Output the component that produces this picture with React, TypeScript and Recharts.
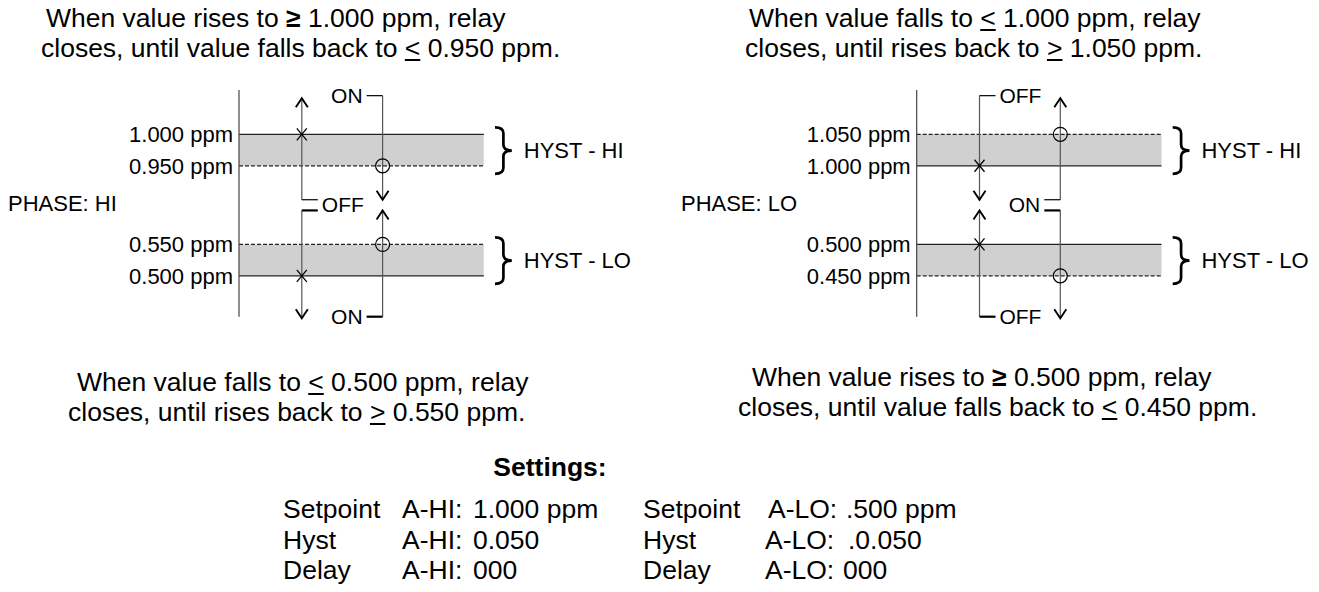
import React from 'react';
import {
    ComposedChart,
    XAxis,
    YAxis,
    Scatter,
    ReferenceArea,
    ReferenceLine,
    ReferenceDot,
} from 'recharts';

const FONT = '"Liberation Sans", Arial, Helvetica, sans-serif';

// Alarm thresholds, top to bottom (ppm)
const hiLevels = [1.0, 0.95, 0.55, 0.5];
const hiTickLabels = ['1.000 ppm', '0.950 ppm', '0.550 ppm', '0.500 ppm'];
const hiSetpoints = [1.0, 0.5];
const hiReleases = [0.95, 0.55];

const loLevels = [1.05, 1.0, 0.5, 0.45];
const loTickLabels = ['1.050 ppm', '1.000 ppm', '0.500 ppm', '0.450 ppm'];
const loSetpoints = [1.0, 0.5];
const loReleases = [1.05, 0.45];

const hyst = 0.05;
const bandNames = ['HYST - HI', 'HYST - LO'];

// Settings table
const settingNames = ['Setpoint', 'Hyst', 'Delay'];
const hiSettingValues = ['1.000 ppm', '0.050', '000'];
const loSettingValues = ['.500 ppm', '.0.050', '000'];

// schematic x lanes (axis units)
const SET_LANE = 1.57;
const REL_LANE = 3.59;
const BAND_END = 6.12;
const BRACE_X = 6.4;
const STUB = 0.4;

const LINE = '#222';
const SHAFT = '#555';
const DIAGRAM_FONT = 22;
const TEXT_FONT = 26.5;

type Mode = 'HI' | 'LO';

// broken axis: the gap between the two bands is drawn 2.5 hysteresis widths tall
const makePos = (levels: number[]) => (v: number) =>
    v >= levels[1] ? v - (levels[1] - levels[2]) + 2.5 * hyst : v;

const Shaft = ({ x1, y1, x2, y2, head }: any) => (
    <g>
        <line x1={x1} y1={y1} x2={x2} y2={y2} stroke={SHAFT} strokeWidth={1.2} />
        {head && (
            <polyline
                points={`${x2 - 6},${y2 + (y2 < y1 ? 9 : -9)} ${x2},${y2} ${x2 + 6},${y2 + (y2 < y1 ? 9 : -9)}`}
                fill="none"
                stroke="#000"
                strokeWidth={1.9}
            />
        )}
    </g>
);

const Stub = ({ x1, y1, x2, y2, heavy }: any) => (
    <line x1={x1} y1={y1} x2={x2} y2={y2} stroke="#000" strokeWidth={heavy ? 2.2 : 1.2} />
);

const CrossMark = ({ cx, cy }: any) => (
    <g stroke="#000" strokeWidth={1.3}>
        <line x1={cx - 5} y1={cy - 6} x2={cx + 5} y2={cy + 6} />
        <line x1={cx - 5} y1={cy + 6} x2={cx + 5} y2={cy - 6} />
    </g>
);

const CircleMark = ({ cx, cy }: any) => (
    <circle cx={cx} cy={cy} r={7} fill="none" stroke="#000" strokeWidth={1.2} />
);

const Brace = ({ x, y, width, height, name }: any) => {
    const top = y - 7;
    const bot = y + height + 8;
    const mid = (top + bot) / 2;
    const xm = x + width * 0.5;
    const xp = x + width;
    const r = 6;
    const d = `M${x},${top} Q${xm},${top} ${xm},${top + r} L${xm},${mid - r} Q${xm},${mid} ${xp},${mid} Q${xm},${mid} ${xm},${mid + r} L${xm},${bot - r} Q${xm},${bot} ${x},${bot}`;
    return (
        <g>
            <path d={d} fill="none" stroke="#000" strokeWidth={2.7} />
            <text x={xp + 12} y={mid} dy="0.35em" fontSize={DIAGRAM_FONT} fontFamily={FONT} fill="#000">
                {name}
            </text>
        </g>
    );
};

const Word = ({ cx, cy, text, side }: any) => (
    <text
        x={side === 'right' ? cx + 4 : cx - 4}
        y={cy}
        dy="0.35em"
        textAnchor={side === 'right' ? 'start' : 'end'}
        fontSize={21}
        fontFamily={FONT}
        fill="#000"
    >
        {text}
    </text>
);

interface PanelProps {
    mode: Mode;
    levels: number[];
    tickLabels: string[];
    setpoints: number[];
    releases: number[];
    axisWidth: number;
    phaseOffset: number;
}

function PhasePanel({ mode, levels, tickLabels, setpoints, releases, axisWidth, phaseOffset }: PanelProps) {
    const pos = makePos(levels);
    const ticks = levels.map(pos);
    const labelOf = new Map(ticks.map((t, i) => [t, tickLabels[i]]));
    const top = ticks[0];
    const bottom = ticks[3];
    const midGap = (ticks[1] + ticks[2]) / 2;
    const brk = 0.17 * hyst;
    const domain = [bottom - 1.3 * hyst, top + 1.41 * hyst];

    const crossData = setpoints.map((v) => ({ x: SET_LANE, y: pos(v) }));
    const circleData = releases.map((v) => ({ x: REL_LANE, y: pos(v) }));

    // lane with arrows at outer ends and bracket in the middle, or the reverse
    const lanes =
        mode === 'HI'
            ? [
                  { x: SET_LANE, outer: 'arrow', side: 'right', word: 'OFF' },
                  { x: REL_LANE, outer: 'bracket', side: 'left', word: 'ON' },
              ]
            : [
                  { x: SET_LANE, outer: 'bracket', side: 'right', word: 'OFF' },
                  { x: REL_LANE, outer: 'arrow', side: 'left', word: 'ON' },
              ];

    const bands = [
        [ticks[1], ticks[0]],
        [ticks[3], ticks[2]],
    ];

    return (
        <ComposedChart
            width={axisWidth + 400}
            height={340}
            margin={{ top: 90, right: 0, bottom: 23.3, left: 0 }}
        >
            <XAxis type="number" dataKey="x" domain={[0, 10]} hide />
            <YAxis
                type="number"
                dataKey="y"
                domain={domain}
                ticks={ticks}
                interval={0}
                width={axisWidth}
                tickLine={false}
                tickSize={0}
                tickMargin={6}
                axisLine={{ stroke: '#444', strokeWidth: 1.2 }}
                tick={{ fill: '#000', fontSize: DIAGRAM_FONT, fontFamily: FONT }}
                tickFormatter={(t: number) => labelOf.get(t) ?? ''}
                label={{
                    value: `PHASE: ${mode}`,
                    position: 'insideLeft',
                    offset: phaseOffset,
                    fill: '#000',
                    fontSize: DIAGRAM_FONT,
                    fontFamily: FONT,
                }}
            />
            {bands.map(([y1, y2], i) => (
                <ReferenceArea
                    key={`band-${i}`}
                    x1={0}
                    x2={BAND_END}
                    y1={y1}
                    y2={y2}
                    fill="#d0d0d0"
                    fillOpacity={1}
                    stroke="none"
                    ifOverflow="visible"
                />
            ))}
            {levels.map((v) => (
                <ReferenceLine
                    key={`lvl-${v}`}
                    segment={[
                        { x: 0, y: pos(v) },
                        { x: BAND_END, y: pos(v) },
                    ]}
                    stroke={LINE}
                    strokeWidth={1.2}
                    strokeDasharray={setpoints.includes(v) ? undefined : '4 2'}
                    ifOverflow="visible"
                />
            ))}
            {bands.map(([y1, y2], i) => (
                <ReferenceArea
                    key={`brace-${i}`}
                    x1={BRACE_X}
                    x2={BRACE_X + 0.42}
                    y1={y1}
                    y2={y2}
                    ifOverflow="visible"
                    shape={(p: any) => <Brace {...p} name={bandNames[i]} />}
                />
            ))}
            {lanes.map((ln) => {
                const dir = ln.side === 'right' ? 1 : -1;
                const outerTop = top + (ln.outer === 'arrow' ? 1.15 : 1.23) * hyst;
                const outerBot = bottom - (ln.outer === 'arrow' ? 1.35 : 1.3) * hyst;
                const innerTop = midGap + brk;
                const innerBot = midGap - brk;
                const arrowOut = ln.outer === 'arrow';
                const stubYs = arrowOut ? [innerTop, innerBot] : [outerTop, outerBot];
                const wordYs = arrowOut ? [midGap] : [outerTop, outerBot];
                return (
                    <React.Fragment key={`lane-${ln.x}`}>
                        <ReferenceLine
                            segment={
                                arrowOut
                                    ? [
                                          { x: ln.x, y: innerTop },
                                          { x: ln.x, y: outerTop },
                                      ]
                                    : [
                                          { x: ln.x, y: outerTop },
                                          { x: ln.x, y: innerTop },
                                      ]
                            }
                            ifOverflow="visible"
                            shape={(p: any) => <Shaft {...p} head />}
                        />
                        <ReferenceLine
                            segment={
                                arrowOut
                                    ? [
                                          { x: ln.x, y: innerBot },
                                          { x: ln.x, y: outerBot },
                                      ]
                                    : [
                                          { x: ln.x, y: outerBot },
                                          { x: ln.x, y: innerBot },
                                      ]
                            }
                            ifOverflow="visible"
                            shape={(p: any) => <Shaft {...p} head />}
                        />
                        {stubYs.map((y, k) => (
                            <ReferenceLine
                                key={`stub-${k}`}
                                segment={[
                                    { x: ln.x, y },
                                    { x: ln.x + dir * STUB, y },
                                ]}
                                ifOverflow="visible"
                                shape={(p: any) => <Stub {...p} heavy={k === 1} />}
                            />
                        ))}
                        {wordYs.map((y, k) => (
                            <ReferenceDot
                                key={`word-${k}`}
                                x={ln.x + dir * STUB}
                                y={y}
                                r={0}
                                ifOverflow="visible"
                                shape={(p: any) => <Word {...p} text={ln.word} side={ln.side} />}
                            />
                        ))}
                    </React.Fragment>
                );
            })}
            <Scatter data={crossData} shape={(p: any) => <CrossMark {...p} />} isAnimationActive={false} />
            <Scatter data={circleData} shape={(p: any) => <CircleMark {...p} />} isAnimationActive={false} />
        </ComposedChart>
    );
}

const lt = <span style={{ textDecoration: 'underline' }}>&lt;</span>;
const gt = <span style={{ textDecoration: 'underline' }}>&gt;</span>;
const ge = <b>≥</b>;

const textLine = (left: number, top: number, content: React.ReactNode) => (
    <div
        style={{
            position: 'absolute',
            left,
            top,
            fontSize: TEXT_FONT,
            lineHeight: '30px',
            whiteSpace: 'nowrap',
        }}
    >
        {content}
    </div>
);

const cell = (left: number, top: number, text: string) => (
    <div style={{ position: 'absolute', left, top, fontSize: TEXT_FONT, lineHeight: '30px', whiteSpace: 'nowrap' }}>
        {text}
    </div>
);

export default function App() {
    const rowTops = [494, 525, 555];
    return (
        <div
            style={{
                position: 'absolute',
                left: 0,
                top: 0,
                width: 1319,
                height: 592,
                background: '#fff',
                color: '#000',
                fontFamily: FONT,
                overflow: 'hidden',
            }}
        >
            {textLine(46, 3, <>When value rises to {ge} 1.000 ppm, relay</>)}
            {textLine(41, 33, <>closes, until value falls back to {lt} 0.950 ppm.</>)}
            {textLine(749, 3, <>When value falls to {lt} 1.000 ppm, relay</>)}
            {textLine(745, 33, <>closes, until rises back to {gt} 1.050 ppm.</>)}
            {textLine(77, 367, <>When value falls to {lt} 0.500 ppm, relay</>)}
            {textLine(68, 397, <>closes, until rises back to {gt} 0.550 ppm.</>)}
            {textLine(752, 362, <>When value rises to {ge} 0.500 ppm, relay</>)}
            {textLine(738, 392, <>closes, until value falls back to {lt} 0.450 ppm.</>)}

            <div style={{ position: 'absolute', left: 0, top: 0 }}>
                <PhasePanel
                    mode="HI"
                    levels={hiLevels}
                    tickLabels={hiTickLabels}
                    setpoints={hiSetpoints}
                    releases={hiReleases}
                    axisWidth={239}
                    phaseOffset={8}
                />
            </div>
            <div style={{ position: 'absolute', left: 660, top: 0 }}>
                <PhasePanel
                    mode="LO"
                    levels={loLevels}
                    tickLabels={loTickLabels}
                    setpoints={loSetpoints}
                    releases={loReleases}
                    axisWidth={256.7}
                    phaseOffset={21}
                />
            </div>

            <div
                style={{
                    position: 'absolute',
                    left: 0,
                    width: 1100,
                    top: 452,
                    textAlign: 'center',
                    fontWeight: 'bold',
                    fontSize: TEXT_FONT,
                    lineHeight: '30px',
                }}
            >
                Settings:
            </div>
            {settingNames.map((name, i) => (
                <React.Fragment key={name}>
                    {cell(283, rowTops[i], name)}
                    {cell(402, rowTops[i], 'A-HI:')}
                    {cell(473, rowTops[i], hiSettingValues[i])}
                    {cell(643, rowTops[i], name)}
                    {cell(i === 0 ? 768 : 765, rowTops[i], 'A-LO:')}
                    {cell([846, 848, 843][i], rowTops[i], loSettingValues[i])}
                </React.Fragment>
            ))}
        </div>
    );
}
